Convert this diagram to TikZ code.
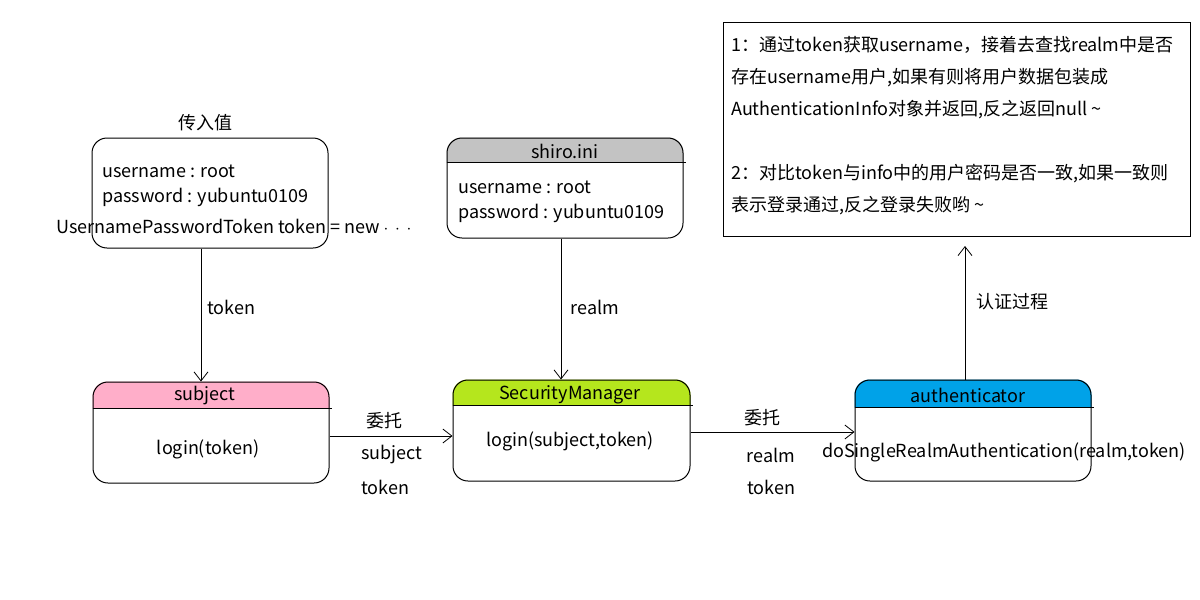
\documentclass[tikz,border=0pt]{standalone}
\usepackage{fontspec}
\setmainfont{Noto Sans CJK SC}
\usetikzlibrary{arrows.meta,backgrounds}
\definecolor{pinkh}{HTML}{FFAEC9}
\definecolor{greenh}{HTML}{B5E61D}
\definecolor{blueh}{HTML}{00A2E8}
\definecolor{grayh}{HTML}{C3C3C3}
\tikzset{
  box/.style={draw, line width=1pt, rounded corners=15pt, inner sep=0pt},
  txt/.style={inner sep=0pt, font=\fontsize{18}{22}\selectfont},
  conn/.style={line width=1pt, -{Straight Barb[length=9pt,width=14pt,line width=0.8pt]}},
}
\newcommand{\hdr}[3]{% node, height, color
  \begin{scope}[on background layer]
  \fill[#3] ([yshift=-#2]#1.north west) [rounded corners=15pt] -- (#1.north west) -- (#1.north east) [sharp corners] -- ([yshift=-#2]#1.north east) -- cycle;
  \end{scope}
  \draw[line width=1pt] ([yshift=-#2]#1.north west) -- ([yshift=-#2,xshift=2pt]#1.north east);
}
\begin{document}
\begin{tikzpicture}[x=1pt,y=-1pt]
\begin{scope}[on background layer]
\useasboundingbox[fill=white] (0,0) rectangle (1200,600);
\end{scope}

% input box
\node[box, minimum width=236pt, minimum height=110pt] (inp) at (210,193) {};
\node[txt] (inpt) at (205,123) {传入值};
\node[txt, anchor=west] (inp1) at (102,171) {username : root};
\node[txt, anchor=west] (inp2) at (102,197) {password : yubuntu0109};
\node[txt] (inp3) at (234,226) {UsernamePasswordToken token = new $\cdot\,\cdot\,\cdot$};

% shiro.ini box
\node[box, minimum width=236pt, minimum height=100pt] (ini) at (565,188) {};
\hdr{ini}{25pt}{grayh}
\node[txt] (init) at (565,151) {shiro.ini};
\node[txt, anchor=west] (ini1) at (458,187) {username : root};
\node[txt, anchor=west] (ini2) at (458,213) {password : yubuntu0109};

% note box
\node[draw, line width=1pt, minimum width=467pt, minimum height=214pt, inner sep=0pt] (note) at (956.5,129) {};
\node[txt, anchor=north west, align=left, font=\fontsize{18}{32}\selectfont] (notet) at (731,36)
{1：通过token获取username，接着去查找realm中是否\\
存在username用户,如果有则将用户数据包装成\\
AuthenticationInfo对象并返回,反之返回null \textasciitilde\\
\\
2：对比token与info中的用户密码是否一致,如果一致则\\
表示登录通过,反之登录失败哟 \textasciitilde};

% subject
\node[box, minimum width=236pt, minimum height=101pt] (subj) at (211,432.5) {};
\hdr{subj}{27pt}{pinkh}
\node[txt] (subjt) at (205,396) {subject};
\node[txt] (subjm) at (208,449) {login(token)};

% SecurityManager
\node[box, minimum width=237pt, minimum height=101pt] (sm) at (571.5,430.5) {};
\hdr{sm}{26pt}{greenh}
\node[txt] (smt) at (570,395) {SecurityManager};
\node[txt] (smm) at (570,441) {login(subject,token)};

% authenticator
\node[box, minimum width=236pt, minimum height=101pt] (auth) at (973,430.5) {};
\hdr{auth}{28pt}{blueh}
\node[txt] (autht) at (968,395) {authenticator};
\node[txt] (authm) at (1004,452) {doSingleRealmAuthentication(realm,token)};

% connectors
\coordinate (ntip) at (965,246);
\draw[conn] (inp.south -| 201,0) -- (subj.north -| 201,0);
\node[txt] (lt) at (231,307) {token};
\draw[conn] (ini.south -| 561,0) -- (sm.north -| 561,0);
\node[txt] (lr) at (595,307) {realm};
\draw[conn] (auth.north -| ntip) -- (ntip);
\node[txt] (lp) at (1012,302) {认证过程};
\draw[conn] (subj.east |- 0,436) -- (sm.west |- 0,436);
\node[txt] (l1) at (384,421) {委托};
\node[txt] (l2) at (392,455) {subject};
\node[txt] (l3) at (385,487) {token};
\draw[conn] (sm.east |- 0,432) -- (auth.west |- 0,432);
\node[txt] (l4) at (762,418) {委托};
\node[txt] (l5) at (771,455) {realm};
\node[txt] (l6) at (771,487) {token};
\end{tikzpicture}
\end{document}
